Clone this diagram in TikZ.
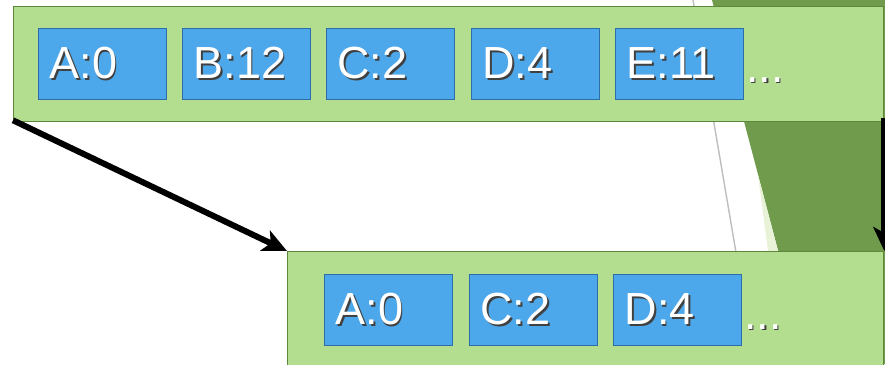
\documentclass[tikz,border=0pt]{standalone}
\usepackage{fontspec}
\setmainfont{Liberation Sans}
\usetikzlibrary{arrows.meta}

\definecolor{panelgreen}{RGB}{179,222,143}
\definecolor{paneledge}{RGB}{94,135,60}
\definecolor{darkgreen}{RGB}{112,155,77}
\definecolor{palegreen}{RGB}{232,242,214}
\definecolor{cellblue}{RGB}{77,168,235}
\definecolor{celledge}{RGB}{46,110,168}
\definecolor{rulegray}{RGB}{190,190,190}

% white label text with a soft dark drop shadow
\newcommand{\shadowed}[1]{\makebox[0pt][l]{\hspace{1.6pt}\raisebox{-1.6pt}{\color{black!75}#1}}#1}

\tikzset{
  panel/.style={draw=paneledge, line width=1.3pt, fill=panelgreen},
  cell/.style={draw=celledge, line width=1pt, fill=cellblue, anchor=north west,
    minimum width=128pt, minimum height=71pt, text width=106pt, inner xsep=11pt,
    align=left, text=white, font=\fontsize{45}{50}\selectfont},
  more/.style={anchor=base west, inner sep=0pt, text=white, font=\fontsize{45}{50}\selectfont},
  bigarrow/.style={line width=6pt, -{Stealth[length=24pt,width=22pt,inset=6pt]}},
}

\begin{document}
\begin{tikzpicture}[x=1pt,y=-1pt]
  \useasboundingbox (0,0) rectangle (885,364);
  \clip (0,0) rectangle (885,364);

  % slide backdrop
  \fill[white] (0,0) rectangle (885,364);
  \fill[darkgreen] (712,0) -- (885,0) -- (885,364) -- (808,364) -- cycle;
  \fill[palegreen] (758,175) -- (768,251) -- (778,251) -- cycle;
  \draw[rulegray, line width=1.4pt] (693,0) -- (755,364);

  % upper row of entries
  \node[panel, anchor=north west, minimum width=870pt, minimum height=115pt, inner sep=0pt] (top) at (13,6) {};
  \node[cell] (ta) at (38,28)  {\shadowed{A:0}};
  \node[cell] (tb) at (182,28) {\shadowed{B:12}};
  \node[cell] (tc) at (326,28) {\shadowed{C:2}};
  \node[cell] (td) at (471,28) {\shadowed{D:4}};
  \node[cell] (te) at (615,28) {\shadowed{E:11}};
  \node[more] (tdots) at (746,82) {\shadowed{...}};

  % lower row of entries
  \node[panel, anchor=north west, minimum width=596pt, minimum height=140pt, inner sep=0pt] (bot) at (287,251) {};
  \node[cell] (ba) at (324,274) {\shadowed{A:0}};
  \node[cell] (bc) at (469,274) {\shadowed{C:2}};
  \node[cell] (bd) at (613,274) {\shadowed{D:4}};
  \node[more] (bdots) at (744,329) {\shadowed{...}};

  % connectors
  \draw[bigarrow] ([yshift=2pt]top.south west) -- (bot.north west);
  \draw[bigarrow] ([yshift=4pt]top.south east) -- (bot.north east);
\end{tikzpicture}
\end{document}
